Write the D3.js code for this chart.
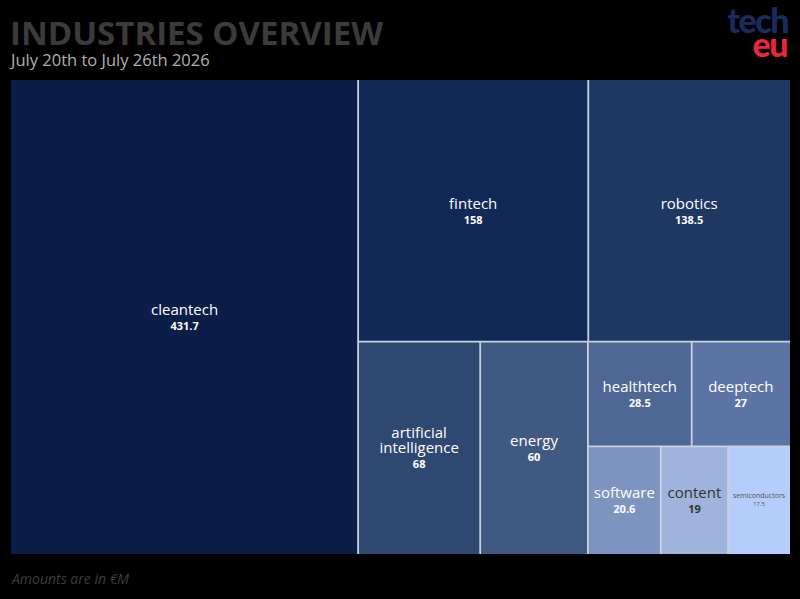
<!DOCTYPE html>
<html>
<head>
<meta charset="utf-8">
<script src="https://cdn.jsdelivr.net/npm/d3@7"></script>
<style>
  html, body { margin: 0; padding: 0; background: #000; }
  svg { display: block; }
</style>
</head>
<body>
<div id="container"></div>
<script>
const WIDTH = 800;
const HEIGHT = 599;

// chart data
const industries = ["cleantech", "fintech", "robotics", "artificial intelligence", "energy",
    "healthtech", "deeptech", "software", "content", "semiconductors"];
const amounts = [431.7, 158, 138.5, 68, 60, 28.5, 27, 20.6, 19, 17.5];
const fills = ["#0a1e48", "#122958", "#1f3763", "#2f4871", "#405983",
    "#4f6795", "#5b74a3", "#7d94c1", "#9eb4dd", "#b4cdfb"];

const TITLE = "INDUSTRIES OVERVIEW";
const SUBTITLE = "July 20th to July 26th 2026";
const FOOTNOTE = "Amounts are in €M";

const BOX = {x: 11, y: 80, w: 779, h: 474};

var translate = function (x, y) {
    return "translate(" + x + "," + y + ")";
};

var svg = d3.select("#container")
    .append("svg")
    .attr("width", WIDTH)
    .attr("height", HEIGHT);

svg.append("rect").attr("width", WIDTH).attr("height", HEIGHT).attr("fill", "#000");

// header
svg.append("text")
    .attr("x", 10).attr("y", 45)
    .attr("font-family", "Open Sans, sans-serif")
    .attr("font-weight", 700)
    .attr("font-size", 33)
    .attr("fill", "#3b3b3b")
    .text(TITLE);

svg.append("text")
    .attr("x", 11).attr("y", 66)
    .attr("font-family", "Open Sans, sans-serif")
    .attr("font-size", 16.5)
    .attr("fill", "#b0b0b0")
    .text(SUBTITLE);

// logo
var logo = svg.append("g");
logo.append("text")
    .attr("x", 788).attr("y", 33)
    .attr("text-anchor", "end")
    .attr("font-family", "Lato, sans-serif")
    .attr("font-weight", 900)
    .attr("font-size", 34)
    .attr("letter-spacing", -1.5)
    .attr("fill", "#1a2b60")
    .text("tech");
logo.append("text")
    .attr("x", 787).attr("y", 57)
    .attr("text-anchor", "end")
    .attr("font-family", "Lato, sans-serif")
    .attr("font-weight", 900)
    .attr("font-size", 34)
    .attr("letter-spacing", -1.5)
    .attr("fill", "#e5283a")
    .text("eu");

// treemap
var root = d3.hierarchy({children: industries.map(function (d, i) {
        return {name: d, value: amounts[i], color: fills[i]};
    })})
    .sum(function (d) { return d.value || 0; })
    .sort(function (a, b) { return b.value - a.value; });

d3.treemap()
    .tile(d3.treemapSquarify.ratio(1))
    .size([BOX.w, BOX.h])
    .round(false)(root);

var g = svg.append("g").attr("transform", translate(BOX.x, BOX.y));

var leaves = root.leaves();

g.selectAll("rect.cell")
    .data(leaves)
    .enter()
    .append("rect")
    .attr("class", "cell")
    .attr("x", function (d) { return d.x0; })
    .attr("y", function (d) { return d.y0; })
    .attr("width", function (d) { return d.x1 - d.x0; })
    .attr("height", function (d) { return d.y1 - d.y0; })
    .attr("fill", function (d) { return d.data.color; });

// separators only inside the box, no outer frame
var EPS = 0.5;
g.selectAll("line.vsep")
    .data(leaves.filter(function (d) { return d.x1 < BOX.w - EPS; }))
    .enter()
    .append("line")
    .attr("x1", function (d) { return d.x1; })
    .attr("x2", function (d) { return d.x1; })
    .attr("y1", function (d) { return d.y0; })
    .attr("y2", function (d) { return d.y1; })
    .attr("stroke", "#c9d1df")
    .attr("stroke-width", 1.8);

g.selectAll("line.hsep")
    .data(leaves.filter(function (d) { return d.y1 < BOX.h - EPS; }))
    .enter()
    .append("line")
    .attr("x1", function (d) { return d.x0; })
    .attr("x2", function (d) { return d.x1; })
    .attr("y1", function (d) { return d.y1; })
    .attr("y2", function (d) { return d.y1; })
    .attr("stroke", "#c9d1df")
    .attr("stroke-width", 1.8);

var wrap = function (text, maxWidth, size) {
    // rough split on words when the label is wider than the cell
    var words = text.split(" ");
    if (words.length < 2 || text.length * size * 0.58 < maxWidth) return [text];
    return words;
};

var labels = g.selectAll("g.label")
    .data(leaves)
    .enter()
    .append("g")
    .attr("class", "label")
    .attr("transform", function (d) { return translate(d.x0, d.y0); });

labels.each(function (d) {
    var w = d.x1 - d.x0, h = d.y1 - d.y0;
    var small = d.data.name === "semiconductors";
    var dark = d.data.value < 20;
    var size = small ? 7 : 15;
    var lines = wrap(d.data.name, w - 10, size);
    var lh = small ? 8 : 15;
    var total = lines.length * lh + (small ? 8 : 15);
    var top = h / 2 - total / 2 + lh - 2;
    var sel = d3.select(this);
    lines.forEach(function (l, i) {
        sel.append("text")
            .attr("x", w / 2).attr("y", top + i * lh)
            .attr("text-anchor", "middle")
            .attr("font-family", "Open Sans, sans-serif")
            .attr("font-size", size)
            .attr("fill", small ? "#555" : (dark ? "#333" : "#fff"))
            .text(l);
    });
    sel.append("text")
        .attr("x", w / 2).attr("y", top + lines.length * lh)
        .attr("text-anchor", "middle")
        .attr("font-family", "Open Sans, sans-serif")
        .attr("font-weight", small ? 400 : 700)
        .attr("font-size", small ? 6 : 11)
        .attr("fill", small ? "#555" : (dark ? "#333" : "#fff"))
        .text(d.data.value);
});

svg.append("text")
    .attr("x", 12).attr("y", 584)
    .attr("font-family", "Open Sans, sans-serif")
    .attr("font-style", "italic")
    .attr("font-size", 14)
    .attr("fill", "#3d3d3d")
    .text(FOOTNOTE);
</script>
</body>
</html>
